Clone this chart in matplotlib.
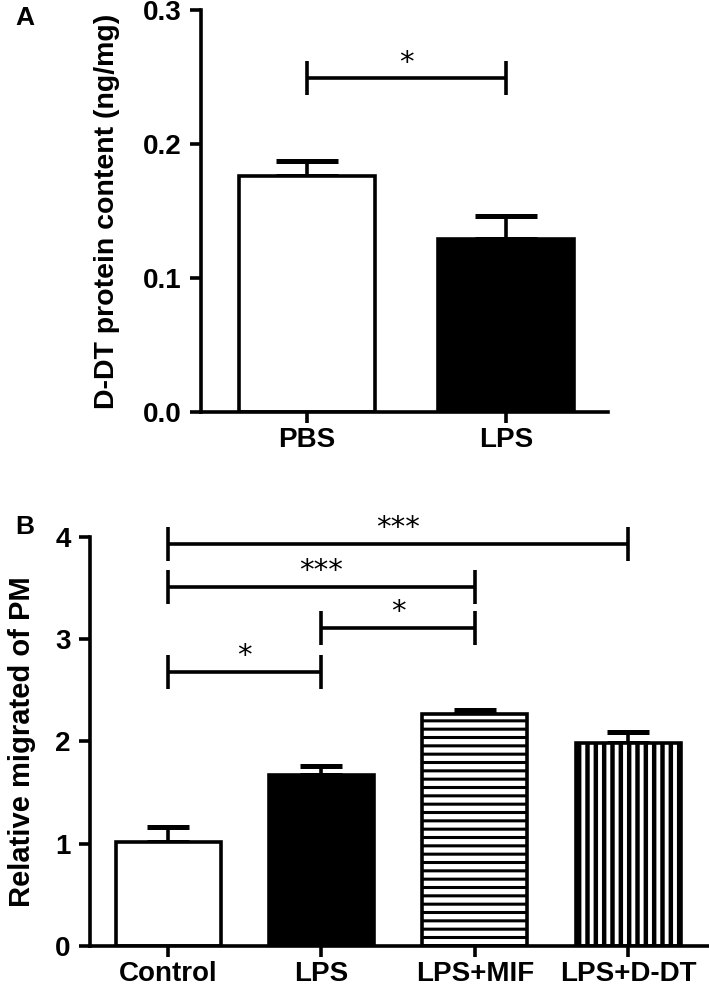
import numpy as np
import matplotlib
matplotlib.use('Agg')
import matplotlib.pyplot as plt

plt.rcParams['font.family'] = ['Liberation Sans', 'DejaVu Sans']
plt.rcParams['font.weight'] = 'bold'

# Panel A data
a_groups = ['PBS', 'LPS']
a_means = [0.176, 0.129]
a_sem = [0.011, 0.017]
a_sig = [(0, 1, 0.249, '*')]

# Panel B data
b_groups = ['Control', 'LPS', 'LPS+MIF', 'LPS+D-DT']
b_means = [1.02, 1.67, 2.27, 1.99]
b_sem = [0.14, 0.09, 0.04, 0.10]
b_sig = [(0, 3, 3.93, '***'), (0, 2, 3.51, '***'), (1, 2, 3.11, '*'), (0, 1, 2.68, '*')]

fig = plt.figure(figsize=(7.09, 9.88), dpi=100)
LW = 2.6


def style_axis(ax):
    for s in ['top', 'right']:
        ax.spines[s].set_visible(False)
    for s in ['left', 'bottom']:
        ax.spines[s].set_linewidth(LW)
    ax.tick_params(direction='out', length=8, width=LW, labelsize=20)
    ax.tick_params(axis='y', pad=6)
    ax.tick_params(axis='x', pad=3)
    for lab in ax.get_xticklabels() + ax.get_yticklabels():
        lab.set_fontweight('bold')


def brackets(ax, sig, half):
    for i, j, y, txt in sig:
        ax.plot([i, j], [y, y], color='black', lw=LW, clip_on=False, solid_capstyle='butt')
        for x in (i, j):
            ax.plot([x, x], [y - half, y + half], color='black', lw=LW, clip_on=False,
                    solid_capstyle='butt')
        ax.text((i + j) / 2, y + half * 0.1, txt, ha='center', va='bottom', fontsize=21,
                fontweight='normal', family='DejaVu Sans', clip_on=False)


# ---- Panel A
axA = fig.add_axes([0.2835, 0.583, 0.5741, 0.4069])
xa = np.arange(len(a_groups))
colors_a = ['white', 'black']
axA.errorbar(xa, a_means, yerr=[np.zeros(len(a_sem)), a_sem], fmt='none', ecolor='black',
             elinewidth=LW, capsize=22, capthick=LW + 1, zorder=1)
axA.bar(xa, a_means, width=0.68, color=colors_a, edgecolor='black', linewidth=LW, zorder=2)
axA.set_xlim(-0.533, 1.513)
axA.set_ylim(0, 0.3)
axA.set_yticks([0.0, 0.1, 0.2, 0.3])
axA.set_yticklabels(['0.0', '0.1', '0.2', '0.3'])
axA.set_xticks(xa)
axA.set_xticklabels(a_groups)
axA.set_ylabel('D-DT protein content (ng/mg)', fontsize=20.5, fontweight='bold')
axA.yaxis.set_label_coords(-0.198, 0.5)
style_axis(axA)
brackets(axA, a_sig, 0.0127)
fig.text(0.035, 0.982, 'A', fontsize=19, fontweight='bold', ha='center', va='center')

# ---- Panel B
axB = fig.add_axes([0.127, 0.0425, 0.8716, 0.414])
xb = np.arange(len(b_groups))
axB.errorbar(xb, b_means, yerr=[np.zeros(len(b_sem)), b_sem], fmt='none', ecolor='black',
             elinewidth=LW, capsize=15, capthick=LW + 1, zorder=1)
fills = ['white', 'black', 'white', 'white']
hatches = [None, None, '--', '||']
hatch_lw = [1, 1, 2.2, 3.2]
for k in range(len(b_groups)):
    plt.rcParams['hatch.linewidth'] = hatch_lw[k]
    axB.bar(xb[k], b_means[k], width=0.685, color=fills[k], edgecolor='black',
            linewidth=LW, hatch=hatches[k], zorder=2)
axB.set_xlim(-0.509, 3.52)
axB.set_ylim(0, 4)
axB.set_yticks([0, 1, 2, 3, 4])
axB.set_xticks(xb)
axB.set_xticklabels(b_groups)
axB.set_ylabel('Relative migrated of PM', fontsize=21, fontweight='bold')
axB.yaxis.set_label_coords(-0.088, 0.5)
style_axis(axB)
brackets(axB, b_sig, 0.167)
fig.text(0.035, 0.467, 'B', fontsize=19, ha='center', va='center')

fig.savefig('out.png', dpi=100)
